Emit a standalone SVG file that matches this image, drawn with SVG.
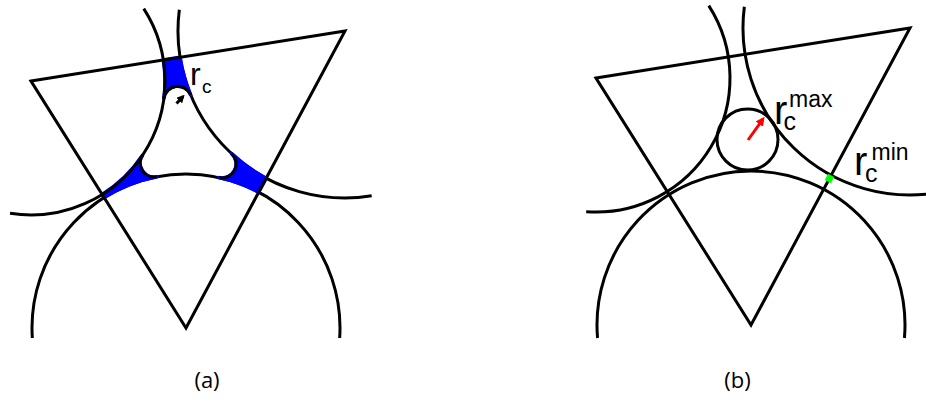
<svg xmlns="http://www.w3.org/2000/svg" width="926" height="401" viewBox="0 0 926 401">
<defs>
<style>
.ln{fill:none;stroke:#000;stroke-width:3}
.tri{fill:none;stroke:#000;stroke-width:3;stroke-linejoin:miter}
.blue{fill:#0000ff;stroke:#0000ff;stroke-width:3.5;stroke-linejoin:round}
.lbl{font-family:"Liberation Sans",Arial,sans-serif;fill:#000}
.cap{font-family:"Open Sans","Liberation Sans",sans-serif;font-size:22px;fill:#000}
</style>
<marker id="ahk" viewBox="0 0 10 10" refX="7" refY="5" markerUnits="userSpaceOnUse" markerWidth="8" markerHeight="8" orient="auto"><path d="M0,0 L10,5 L0,10 z" fill="#000"/></marker>
<marker id="ahr" viewBox="0 0 10 10" refX="7" refY="5" markerUnits="userSpaceOnUse" markerWidth="9" markerHeight="9" orient="auto"><path d="M0,0 L10,5 L0,10 z" fill="#ff0000"/></marker>
</defs>
<rect width="926" height="401" fill="#fff"/>

<g id="panel-a">
  <g id="a-circle-bottom"><path class="ln" d="M32.33,338 A154,154 0 1 1 339.67,338"/></g>
  <g id="a-circle-right"><path class="ln" d="M179.34,9.81 A167,167 0 0 0 371.7,195.85"/></g>
  <g id="a-pores">
    <path class="blue" d="M163.33,59.93 A134,134 0 0 1 163.86,98.40 A14,14 0 0 1 190.68,94.87 A167,167 0 0 1 180.08,57.26 Z"/>
    <path class="blue" d="M142.52,155.29 A134,134 0 0 1 102.23,194.50 L104.14,197.56 A154,154 0 0 1 156.82,176.80 A14,14 0 0 1 142.52,155.29 Z"/>
    <path class="blue" d="M231.64,153.64 A167,167 0 0 0 266.18,178.23 L258.68,192.23 A154,154 0 0 0 219.13,177.59 A14,14 0 0 0 231.64,153.64 Z"/>
  </g>
  <g id="a-circle-left"><path class="ln" d="M143.76,8.61 A134,134 0 0 1 10.04,213.35"/></g>
  <g id="a-triangle"><polygon class="tri" points="31,81 345,31 186,328"/></g>
  <g id="a-fillets">
    <path class="ln" d="M163.86,98.40 A14,14 0 0 1 190.68,94.87"/>
    <path class="ln" d="M142.52,155.29 A14,14 0 0 0 156.82,176.80"/>
    <path class="ln" d="M231.64,153.64 A14,14 0 0 1 219.13,177.59"/>
  </g>
  <g id="a-connectors"><line x1="176.5" y1="103.5" x2="183" y2="96.5" stroke="#000" stroke-width="3" marker-end="url(#ahk)"/></g>
  <g id="a-label"><text class="lbl" x="190" y="85" font-size="32">r</text><text class="lbl" x="202" y="93" font-size="19">c</text></g>
  <text class="cap" x="207" y="388" text-anchor="middle">(a)</text>
</g>

<g id="panel-b">
  <g id="b-circle-bottom"><path class="ln" d="M597.55,338 A154,154 0 1 1 904.45,338"/></g>
  <g id="b-circle-right"><path class="ln" d="M744.34,6.81 A167,167 0 0 0 936.7,192.85"/></g>
  <g id="b-circle-left"><path class="ln" d="M708.76,5.61 A134,134 0 0 1 586.19,211.64"/></g>
  <g id="b-triangle"><polygon class="tri" points="596,78 910,28 751,325"/></g>
  <g id="b-inscribed"><circle class="ln" cx="747.5" cy="139.5" r="30.5"/></g>
  <g id="b-connectors"><line x1="748" y1="140" x2="763" y2="119" stroke="#ff0000" stroke-width="3" marker-end="url(#ahr)"/></g>
  <g id="b-min-point"><rect x="-3.5" y="-3.5" width="7" height="7" fill="#00ff00" transform="translate(829.5,178.5) rotate(28)"/></g>
  <g id="b-label-max"><text class="lbl" x="774" y="123.5" font-size="40">r</text><text class="lbl" x="783.5" y="130" font-size="25">c</text><text class="lbl" x="789" y="106.7" font-size="23">max</text></g>
  <g id="b-label-min"><text class="lbl" x="854" y="175" font-size="40">r</text><text class="lbl" x="865" y="181.7" font-size="25">c</text><text class="lbl" x="871.5" y="160" font-size="23">min</text></g>
  <text class="cap" x="737.5" y="388" text-anchor="middle">(b)</text>
</g>
</svg>
